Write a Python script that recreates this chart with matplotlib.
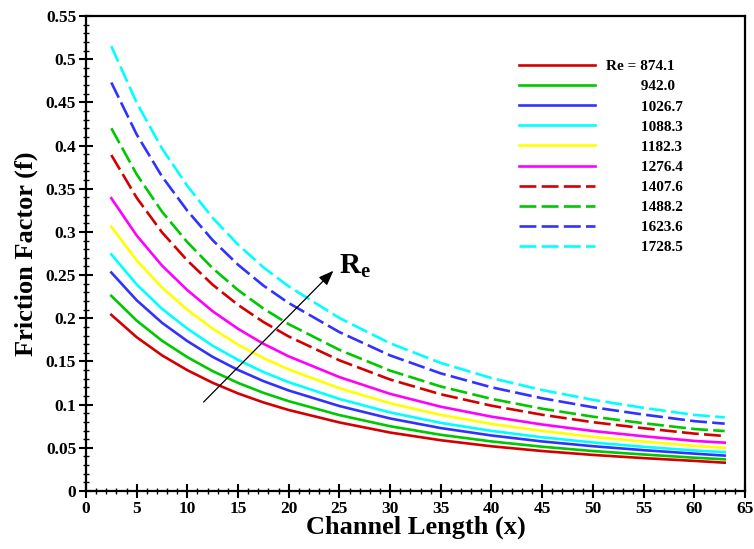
import numpy as np
import matplotlib
matplotlib.use("Agg")
from matplotlib import pyplot as plt
from matplotlib.ticker import MultipleLocator, FuncFormatter

plt.rcParams['font.family'] = ['Liberation Serif', 'DejaVu Serif']
plt.rcParams['font.weight'] = 'bold'
plt.rcParams['mathtext.fontset'] = 'custom'
plt.rcParams['mathtext.bf'] = 'Liberation Serif:bold'
plt.rcParams['mathtext.rm'] = 'Liberation Serif:bold'

# channel length positions
x = [2.5, 5, 7.5, 10, 12.5, 15, 17.5, 20, 25, 30, 35, 40, 45, 50, 55, 60, 63]

re_labels = ['Re = 874.1', '942.0', '1026.7', '1088.3', '1182.3',
             '1276.4', '1407.6', '1488.2', '1623.6', '1728.5']

f_874 = [0.204, 0.1781, 0.1571, 0.1399, 0.1253, 0.1130, 0.1026, 0.0938, 0.0794,
         0.0677, 0.0588, 0.0518, 0.0463, 0.0418, 0.0381, 0.0349, 0.0328]
f_942 = [0.226, 0.1973, 0.1740, 0.1550, 0.1388, 0.1252, 0.1137, 0.1040, 0.0879,
         0.0750, 0.0651, 0.0574, 0.0513, 0.0463, 0.0423, 0.0386, 0.0367]
f_1026 = [0.253, 0.2209, 0.1948, 0.1736, 0.1553, 0.1402, 0.1273, 0.1164, 0.0984,
          0.0840, 0.0729, 0.0643, 0.0574, 0.0519, 0.0473, 0.0433, 0.0410]
f_1088 = [0.274, 0.2392, 0.2110, 0.1880, 0.1682, 0.1518, 0.1378, 0.1260, 0.1066,
          0.0910, 0.0789, 0.0696, 0.0622, 0.0562, 0.0512, 0.0469, 0.0450]
f_1182 = [0.306, 0.2671, 0.2356, 0.2099, 0.1879, 0.1695, 0.1539, 0.1408, 0.1190,
          0.1016, 0.0881, 0.0777, 0.0695, 0.0627, 0.0572, 0.0523, 0.0500]
f_1276 = [0.339, 0.2959, 0.2610, 0.2326, 0.2081, 0.1878, 0.1705, 0.1559, 0.1319,
          0.1125, 0.0976, 0.0861, 0.0770, 0.0695, 0.0634, 0.0580, 0.0560]
f_1407 = [0.389, 0.3396, 0.2995, 0.2669, 0.2388, 0.2155, 0.1957, 0.1789, 0.1513,
          0.1291, 0.1120, 0.0988, 0.0883, 0.0797, 0.0727, 0.0665, 0.0637]
f_1488 = [0.420, 0.3667, 0.3234, 0.2881, 0.2579, 0.2327, 0.2113, 0.1932, 0.1634,
          0.1394, 0.1210, 0.1067, 0.0953, 0.0861, 0.0785, 0.0718, 0.0694]
f_1623 = [0.473, 0.4129, 0.3642, 0.3245, 0.2904, 0.2620, 0.2379, 0.2176, 0.1840,
          0.1570, 0.1362, 0.1201, 0.1074, 0.0970, 0.0885, 0.0809, 0.0780]
f_1728 = [0.515, 0.4496, 0.3966, 0.3533, 0.3162, 0.2853, 0.2590, 0.2369, 0.2003,
          0.1710, 0.1483, 0.1308, 0.1169, 0.1056, 0.0963, 0.0881, 0.0853]

series = [f_874, f_942, f_1026, f_1088, f_1182, f_1276, f_1407, f_1488, f_1623, f_1728]
colors = ['#d40000', '#00c800', '#3232ff', '#00ffff', '#ffff00', '#ff00ff',
          '#d40000', '#00c800', '#3232ff', '#00ffff']
dashed = [False] * 6 + [True] * 4

# arrow showing increasing Re (data coords)
arrow_tail = (11.6, 0.103)
arrow_head = (24.4, 0.255)

fig = plt.figure(figsize=(7.54, 5.49), dpi=100)
ax = fig.add_axes([0.114, 0.1056, 0.874, 0.8653])

for i, f in enumerate(series):
    lab = re_labels[i] if i == 0 else ' ' * 9 + re_labels[i]
    line, = ax.plot(x, f, color=colors[i], lw=1.9, label=lab)
    if dashed[i]:
        line.set_dashes((6.4, 2.0))

ax.annotate('', xy=arrow_head, xytext=arrow_tail,
            arrowprops=dict(arrowstyle='-|>,head_length=0.9,head_width=0.35',
                            color='black', lw=0.9, shrinkA=0, shrinkB=0))
ax.text(arrow_head[0] + 0.6, arrow_head[1] - 0.003, r'$\mathbf{R_e}$', fontsize=21,
        ha='left', va='baseline')

ax.set_xlim(0, 65)
ax.set_ylim(0, 0.55)
ax.xaxis.set_major_locator(MultipleLocator(5))
ax.xaxis.set_minor_locator(MultipleLocator(1))
ax.yaxis.set_major_locator(MultipleLocator(0.05))
ax.yaxis.set_minor_locator(MultipleLocator(0.01))
ax.yaxis.set_major_formatter(FuncFormatter(lambda v, p: f'{v:.2f}'.rstrip('0').rstrip('.')))

ax.tick_params(which='major', direction='inout', length=10, width=1.5, labelsize=12.5)
ax.tick_params(which='minor', direction='inout', length=4, width=1.0)
ax.tick_params(axis='x', pad=2)
ax.tick_params(axis='y', pad=2)
for s in ax.spines.values():
    s.set_linewidth(1.6)

ax.set_xlabel('Channel Length (x)', fontsize=19, fontweight='bold', labelpad=-1)
ax.set_ylabel('Friction Factor (f)', fontsize=19, fontweight='bold', labelpad=6)

leg = ax.legend(loc='upper left', bbox_to_anchor=(0.657, 0.908), frameon=False,
                fontsize=11, handlelength=5.0, handletextpad=0.7,
                labelspacing=0.42, borderpad=0, borderaxespad=0)
for t in leg.get_texts():
    t.set_fontweight('bold')

fig.savefig('out.png', dpi=100)
